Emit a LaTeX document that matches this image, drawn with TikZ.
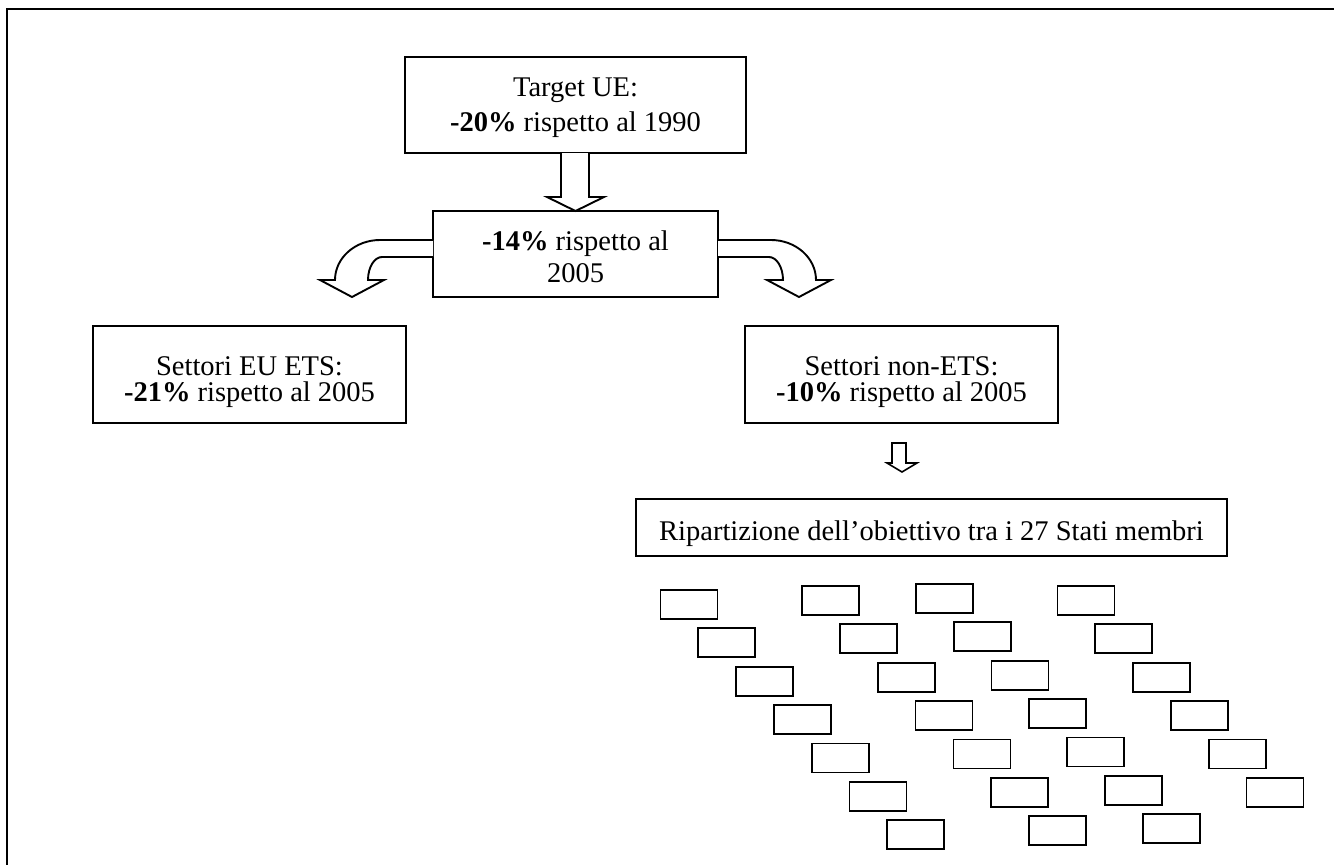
\documentclass[tikz,border=0pt]{standalone}
\usepackage{fontspec}
\setmainfont{Liberation Serif}
\tikzset{
  boxframe/.style={draw, line width=1.9pt, fill=white, inner sep=0pt},
  txt/.style={inner sep=0pt, align=center, text depth=0pt},
  state/.style={draw, line width=1.7pt, minimum width=57pt, minimum height=29pt, inner sep=0pt},
  blockarrow/.style={draw, line width=1.9pt, fill=white, line join=miter}
}
\begin{document}
\begin{tikzpicture}[x=1pt,y=-1pt]
\useasboundingbox (0,0) rectangle (1334,865);
% frame
\draw[line width=2.3pt] (7,880) -- (7,9) -- (1345,9);

% main boxes
\node[boxframe, minimum width=341pt, minimum height=96pt] (top) at (575.5,105) {};
\node[txt, font=\fontsize{28.5}{35}\selectfont] (toptext) at (top.center)
  {Target UE:\\\textbf{-20\%} rispetto al 1990};
\node[boxframe, minimum width=285pt, minimum height=86pt] (mid) at (575.5,254) {};
\node[txt, font=\fontsize{28.5}{32}\selectfont] (midtext) at (575.5,257)
  {\textbf{-14\%} rispetto al\\2005};
\node[boxframe, minimum width=313pt, minimum height=97pt] (ets) at (249.5,374.5) {};
\node[txt, font=\fontsize{28.5}{26}\selectfont] (etstext) at (249.5,379)
  {Settori EU ETS:\\\textbf{-21\%} rispetto al 2005};
\node[boxframe, minimum width=313pt, minimum height=97pt] (nonets) at (901.5,374.5) {};
\node[txt, font=\fontsize{28.5}{26}\selectfont] (nonetstext) at (901.5,379)
  {Settori non-ETS:\\\textbf{-10\%} rispetto al 2005};
\node[boxframe, minimum width=591pt, minimum height=57pt] (rip) at (931.5,527.5) {};
\node[txt, font=\fontsize{28.5}{34}\selectfont] (riptext) at (931.5,531)
  {Ripartizione dell’obiettivo tra i 27 Stati membri};

% block arrows
\draw[blockarrow] (561,153) -- (561,197) -- (547,197) -- (575.5,211) -- (604,197) -- (589,197) -- (589,153);
\draw[blockarrow] (433,240) -- (380,240) .. controls (355.2,240) and (335,257.9) .. (335,280)
  -- (320,280) -- (352,297) -- (384,280) -- (368,280)
  .. controls (368,267.3) and (374.3,257) .. (382,257) -- (433,257);
\draw[blockarrow] (718,240) -- (771,240) .. controls (795.8,240) and (816,257.9) .. (816,280)
  -- (831,280) -- (799,297) -- (767,280) -- (783,280)
  .. controls (783,267.3) and (776.7,257) .. (769,257) -- (718,257);
\draw[blockarrow, line width=1.6pt] (892,443) -- (892,463) -- (887,463) -- (902,472) -- (917,463) -- (906,463) -- (906,443) -- cycle;

% the 27 member-state boxes
\foreach \c/\xo/\yo/\n in {1/660.3/589.7/6, 2/802/585.7/6, 3/915.7/583.7/6, 4/1057.3/585.7/5}{
  \foreach \r in {0,...,\n}{
    \node[state] (s\c-\r) at ({\xo+28.65+37.8*\r},{\yo+14.65+38.4*\r}) {};
  }
}
\end{tikzpicture}
\end{document}
